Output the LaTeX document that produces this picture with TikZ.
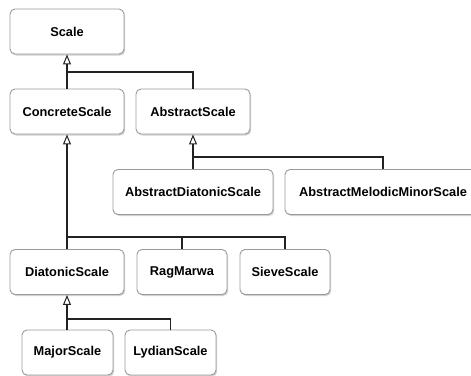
\documentclass[tikz,border=0pt]{standalone}
\usepackage{fontspec}
\setmainfont{Liberation Sans}
\usetikzlibrary{arrows.meta,shadows}
\definecolor{boxborder}{HTML}{9A9A9A}
\definecolor{linecol}{HTML}{222222}
\begin{document}
\begin{tikzpicture}[x=1pt,y=-1pt,
  cls/.style={draw=boxborder, line width=0.9pt, fill=white, rounded corners=5pt,
    minimum height=45pt, inner sep=0pt, font=\fontsize{12.8}{14}\selectfont\bfseries,
    drop shadow={shadow xshift=1.2pt, shadow yshift=-1.5pt, opacity=0.3, fill=black!60}},
  inh/.style={draw=linecol, line width=1.1pt, -{Triangle[open, length=10pt, width=8pt, line width=1pt]}},
  link/.style={draw=linecol, line width=1.1pt}]
\useasboundingbox (0,0) rectangle (471,375);
\clip (0,0) rectangle (471,375);
\node[cls, minimum width=114pt] (scale) at (67,31.5) {Scale};
\node[cls, minimum width=114pt] (conc) at (67,111.5) {ConcreteScale};
\node[cls, minimum width=114pt] (abs) at (193,111.5) {AbstractScale};
\node[cls, minimum width=160pt] (ads) at (193,192) {AbstractDiatonicScale};
\node[cls, minimum width=196pt] (amms) at (383,192) {AbstractMelodicMinorScale};
\node[cls, minimum width=114pt] (dia) at (67,272) {DiatonicScale};
\node[cls, minimum width=90pt] (rag) at (182,272) {RagMarwa};
\node[cls, minimum width=90pt] (sieve) at (285,272) {SieveScale};
\node[cls, minimum width=91pt] (major) at (67.5,352.5) {MajorScale};
\node[cls, minimum width=91pt] (lyd) at (170.5,352.5) {LydianScale};
% Scale hierarchy
\coordinate (b1) at (67,72);
\draw[inh] (conc.north) -- (scale.south);
\draw[link] (abs.north) |- (b1);
% AbstractScale hierarchy
\coordinate (b2) at (193,157);
\draw[inh] (ads.north) -- (abs.south);
\draw[link] (amms.north) |- (b2);
% ConcreteScale hierarchy
\coordinate (b3) at (67,237);
\draw[inh] (dia.north) -- (conc.south);
\draw[link] (rag.north) |- (b3);
\draw[link] (sieve.north) |- (b3);
% DiatonicScale hierarchy
\coordinate (b4) at (67,319);
\draw[inh] (major.north -| dia.south) -- (dia.south);
\draw[link] (lyd.north) |- (b4);
\end{tikzpicture}
\end{document}
